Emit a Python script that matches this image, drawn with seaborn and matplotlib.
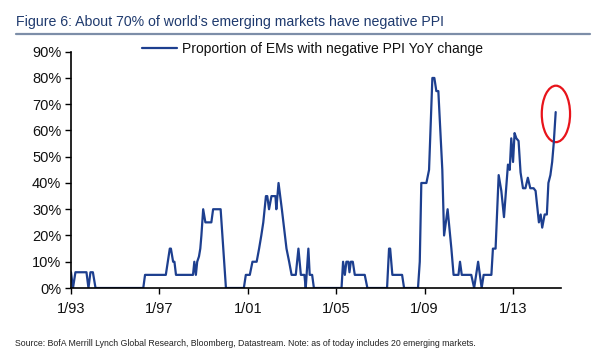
import matplotlib
matplotlib.use("Agg")
import matplotlib.pyplot as plt
from matplotlib.patches import Ellipse
from matplotlib.lines import Line2D
import seaborn as sns
import pandas as pd
from matplotlib import font_manager

# ---- data ----
years = [1993.00, 1993.09, 1993.20, 1993.70, 1993.79, 1993.88, 1993.99, 1994.11,
         1996.27, 1996.35, 1997.29, 1997.47, 1997.52, 1997.62, 1997.68, 1997.75,
         1998.52, 1998.58, 1998.65, 1998.71, 1998.79, 1998.85, 1998.90, 1998.98,
         1999.08, 1999.35, 1999.43, 1999.77, 2000.01, 2000.82, 2000.91, 2001.09,
         2001.21, 2001.40, 2001.51, 2001.61, 2001.70, 2001.82, 2001.88, 2001.96,
         2002.07, 2002.25, 2002.29, 2002.39, 2002.54, 2002.75, 2002.87, 2002.98,
         2003.17, 2003.29, 2003.40, 2003.56, 2003.62, 2003.74, 2003.80, 2003.91,
         2003.99, 2005.24, 2005.31, 2005.39, 2005.46, 2005.55, 2005.60, 2005.66,
         2005.75, 2005.84, 2006.29, 2006.41, 2007.30, 2007.39, 2007.44, 2007.54,
         2007.98, 2008.07, 2008.70, 2008.78, 2008.85, 2009.08, 2009.20, 2009.35,
         2009.44, 2009.53, 2009.62, 2009.80, 2009.88, 2010.04, 2010.21, 2010.31,
         2010.53, 2010.60, 2010.68, 2011.11, 2011.24, 2011.42, 2011.58, 2011.67,
         2012.02, 2012.09, 2012.21, 2012.35, 2012.47, 2012.59, 2012.77, 2012.85,
         2012.92, 2013.00, 2013.07, 2013.15, 2013.25, 2013.34, 2013.45, 2013.56,
         2013.67, 2013.78, 2013.93, 2014.02, 2014.17, 2014.25, 2014.32, 2014.43,
         2014.53, 2014.60, 2014.69, 2014.77, 2014.84, 2014.93]
share_pct = [6, 0, 6, 6, 0, 6, 6, 0,
             0, 5, 5, 15, 15, 10, 10, 5,
             5, 10, 5, 10, 12, 15, 20, 30,
             25, 25, 30, 30, 0, 0, 5, 5,
             10, 10, 15, 20, 25, 35, 35, 30,
             35, 35, 30, 40, 30, 15, 10, 5,
             5, 15, 5, 5, 0, 15, 5, 5,
             0, 0, 10, 5, 10, 10, 6, 10,
             10, 5, 5, 0, 0, 15, 15, 5,
             5, 0, 0, 10, 40, 40, 45, 80,
             80, 75, 75, 45, 20, 30, 15, 5,
             5, 10, 5, 5, 0, 10, 0, 5,
             5, 15, 15, 43, 37, 27, 47, 45,
             57, 48, 59, 57, 56, 44, 38, 38,
             42, 38, 38, 37, 25, 28, 23, 28,
             28, 40, 43, 48, 55, 67]
tick_years = [1993, 1997, 2001, 2005, 2009, 2013]
tick_labels = ["1/93", "1/97", "1/01", "1/05", "1/09", "1/13"]
y_ticks = [0, 10, 20, 30, 40, 50, 60, 70, 80, 90]
series_name = "Proportion of EMs with negative PPI YoY change"
title_text = "Figure 6: About 70% of world\u2019s emerging markets have negative PPI"
source_text = ("Source: BofA Merrill Lynch Global Research, Bloomberg, Datastream. "
               "Note: as of today includes 20 emerging markets.")

df = pd.DataFrame({"year": years, "share": share_pct, "series": series_name})

# ---- style ----
sns.set_style("ticks")
names = {f.name for f in font_manager.fontManager.ttflist}
narrow = "Liberation Sans Narrow" if "Liberation Sans Narrow" in names else "Liberation Sans"
plt.rcParams["font.family"] = ["Liberation Sans", "DejaVu Sans"]

W, H = 600, 355
fig = plt.figure(figsize=(W / 100, H / 100), dpi=100)
ax = fig.add_axes([71 / W, 1 - 288 / H, (561 - 71) / W, (288 - 51.7) / H])

line_color = "#1d3f8f"
sns.lineplot(data=df, x="year", y="share", hue="series", palette=[line_color],
             linewidth=1.6, ax=ax, legend=True)

ax.set_xlim(1993, 2015.17)
ax.set_ylim(0, 90)
ax.set_xticks(tick_years)
ax.set_xticklabels(tick_labels)
ax.set_yticks(y_ticks)
ax.set_yticklabels([f"{v}%" for v in y_ticks])
ax.set_xlabel("")
ax.set_ylabel("")
for s in ["top", "right"]:
    ax.spines[s].set_visible(False)
for s in ["left", "bottom"]:
    ax.spines[s].set_color("black")
    ax.spines[s].set_linewidth(1.2)
ax.tick_params(axis="both", direction="out", length=4, width=1, color="black",
               labelsize=10.5, labelcolor="#111111", pad=3)
ax.tick_params(axis="x", pad=6)

# legend
handles, labels = ax.get_legend_handles_labels()
leg = ax.legend(handles, labels, loc="center left", frameon=False,
                bbox_to_anchor=(142 / W, 1 - 49 / H), bbox_transform=fig.transFigure,
                fontsize=10, handlelength=2.5, handletextpad=0.35, borderaxespad=0,
                borderpad=0)
for t in leg.get_texts():
    t.set_color("#111111")

# red highlight ellipse
ax.add_patch(Ellipse((2014.94, 66.3), 1.28, 21.5, fill=False, edgecolor="#e8141b",
                     linewidth=1.6, clip_on=False))

# title and underline
fig.text(16 / W, 1 - 22 / H, title_text, family=[narrow, "DejaVu Sans"],
         fontsize=10.2 if narrow == "Liberation Sans" else 12.5,
         color="#1f3a6e", va="center", ha="left", fontweight="medium")
fig.add_artist(Line2D([16 / W, 590 / W], [1 - 34 / H, 1 - 34 / H],
                      transform=fig.transFigure, color="#7d8ea8", linewidth=1.6))

# source
fig.text(15 / W, 1 - 343 / H, source_text, family=[narrow, "DejaVu Sans"],
         fontsize=6.3 if narrow == "Liberation Sans" else 7,
         color="#222222", va="center", ha="left")

fig.savefig("out.png", dpi=100)
